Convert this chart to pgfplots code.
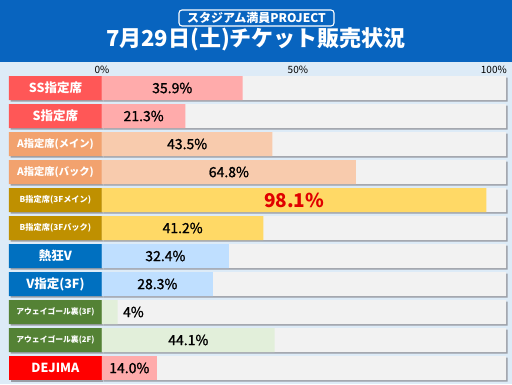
\documentclass[border=0pt]{standalone}
\usepackage{pgfplots}
\pgfplotsset{compat=1.18}
\usepackage{fontspec}
\setmainfont{Noto Sans CJK JP}
\newfontfamily\valfont[FakeBold=1.3]{Noto Sans CJK JP}
\definecolor{hdr}{HTML}{0864BF}
\definecolor{bgc}{HTML}{DDEBF7}
\definecolor{graybar}{HTML}{F2F2F2}
\definecolor{shd}{HTML}{9A9EA6}
\definecolor{lRed}{HTML}{FF5757}
\definecolor{lOrg}{HTML}{F2A26E}
\definecolor{lGold}{HTML}{BF9000}
\definecolor{lBlue}{HTML}{0070C0}
\definecolor{lGreen}{HTML}{548235}
\definecolor{lDej}{HTML}{FF0000}
\definecolor{bPink}{HTML}{FFABAB}
\definecolor{bPeach}{HTML}{F8CBAD}
\definecolor{bYel}{HTML}{FFD966}
\definecolor{bBlue}{HTML}{BFDFFF}
\definecolor{bGreen}{HTML}{E2EFDA}
\definecolor{valred}{HTML}{E00000}
\begin{document}
\begin{tikzpicture}
\useasboundingbox (0,0) rectangle (512pt,384pt);
\fill[bgc] (0,0) rectangle (512pt,384pt);
\fill[hdr] (0,322pt) rectangle (512pt,384pt);
\node[draw=white, line width=1.1pt, rounded corners=3pt, text=white, inner sep=0pt,
      minimum width=155pt, minimum height=16pt,
      font=\bfseries\fontsize{12}{13}\selectfont] at (256.5pt,366pt) {スタジアム満員PROJECT};
\node[text=white, inner sep=0pt, font=\bfseries\fontsize{22}{24}\selectfont] at (256pt,345pt) {7月29日(土)チケット販売状況};
\begin{axis}[
  at={(9pt,2pt)}, anchor=south west,
  scale only axis, width=497pt, height=308pt,
  xmin=-23.7, xmax=103.1, ymin=-0.5, ymax=10.5, y dir=reverse,
  xbar, bar width=24pt, bar shift=0pt,
  axis line style={draw=none}, major tick length=0pt,
  xtick={0,50,100}, xticklabels={0\%,50\%,100\%}, xticklabel pos=upper,
  xticklabel style={anchor=south, inner sep=0pt, font=\fontsize{10}{11}\selectfont},
  /pgf/number format/assume math mode=true,
  ytick=\empty, clip=false,
  every axis plot/.append style={draw=none},
  shadow/.style={preaction={fill=shd, transform canvas={xshift=1.6pt,yshift=-1.6pt}}},
]
% label boxes
\addplot[fill=lRed, shadow] coordinates {(-23.7,0) (-23.7,1)};
\addplot[fill=lOrg, shadow] coordinates {(-23.7,2) (-23.7,3)};
\addplot[fill=lGold, shadow] coordinates {(-23.7,4) (-23.7,5)};
\addplot[fill=lBlue, shadow] coordinates {(-23.7,6) (-23.7,7)};
\addplot[fill=lGreen, shadow] coordinates {(-23.7,8) (-23.7,9)};
\addplot[fill=lDej, shadow] coordinates {(-23.7,10)};
% background bars
\addplot[fill=graybar, shadow] coordinates {(103.1,0) (103.1,1) (103.1,2) (103.1,3) (103.1,4) (103.1,5) (103.1,6) (103.1,7) (103.1,8) (103.1,9) (103.1,10)};
% values
\addplot[fill=bPink] coordinates {(35.9,0) (21.3,1)};
\addplot[fill=bPeach] coordinates {(43.5,2) (64.8,3)};
\addplot[fill=bYel] coordinates {(98.1,4) (41.2,5)};
\addplot[fill=bBlue] coordinates {(32.4,6) (28.3,7)};
\addplot[fill=bGreen] coordinates {(4,8) (44.1,9)};
\addplot[fill=bPink] coordinates {(14.0,10)};
% category labels
\begin{scope}[every node/.style={text=white, font=\bfseries}]
\node[font=\bfseries\fontsize{12.5}{13}\selectfont] at (axis cs:-11.85,0) {SS指定席};
\node[font=\bfseries\fontsize{12.5}{13}\selectfont] at (axis cs:-11.85,1) {S指定席};
\node[font=\bfseries\fontsize{10.3}{11}\selectfont] at (axis cs:-11.85,2) {A指定席(メイン)};
\node[font=\bfseries\fontsize{10.3}{11}\selectfont] at (axis cs:-11.85,3) {A指定席(バック)};
\node[font=\bfseries\fontsize{8.2}{9}\selectfont] at (axis cs:-11.85,4) {B指定席(3Fメイン)};
\node[font=\bfseries\fontsize{8.2}{9}\selectfont] at (axis cs:-11.85,5) {B指定席(3Fバック)};
\node[font=\bfseries\fontsize{12.5}{13}\selectfont] at (axis cs:-11.85,6) {熱狂V};
\node[font=\bfseries\fontsize{12.5}{13}\selectfont] at (axis cs:-11.85,7) {V指定(3F)};
\node[font=\bfseries\fontsize{7.8}{9}\selectfont] at (axis cs:-11.85,8) {アウェイゴール裏(3F)};
\node[font=\bfseries\fontsize{7.8}{9}\selectfont] at (axis cs:-11.85,9) {アウェイゴール裏(2F)};
\node[font=\bfseries\fontsize{12.5}{13}\selectfont] at (axis cs:-11.85,10) {DEJIMA};
\end{scope}
% value labels
\begin{scope}[every node/.style={text=black, font=\valfont\fontsize{14}{15}\selectfont}]
\node at (axis cs:17.95,0) {35.9\%};
\node at (axis cs:10.65,1) {21.3\%};
\node at (axis cs:21.75,2) {43.5\%};
\node at (axis cs:32.4,3) {64.8\%};
\node[text=valred, font=\bfseries\fontsize{19}{20}\selectfont] at (axis cs:49.05,4) {98.1\%};
\node at (axis cs:20.6,5) {41.2\%};
\node at (axis cs:16.2,6) {32.4\%};
\node at (axis cs:14.15,7) {28.3\%};
\node[anchor=west] at (axis cs:4.5,8) {4\%};
\node at (axis cs:22.05,9) {44.1\%};
\node at (axis cs:7.0,10) {14.0\%};
\end{scope}
\end{axis}
\end{tikzpicture}
\end{document}
